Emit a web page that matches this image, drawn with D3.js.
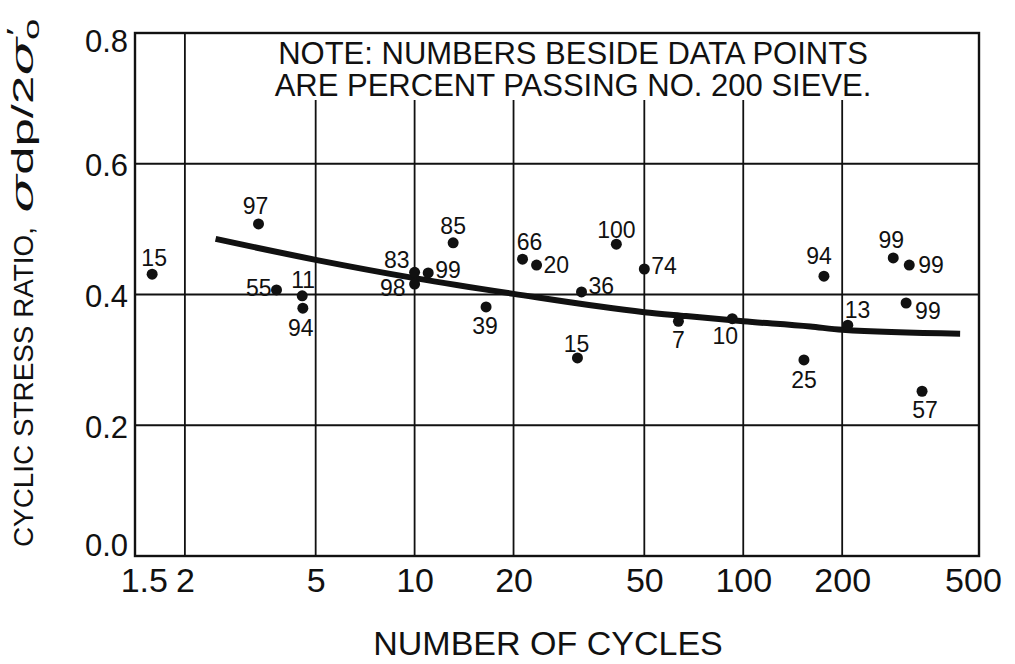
<!DOCTYPE html>
<html lang="en">
<head>
<meta charset="utf-8">
<title>Cyclic stress ratio vs number of cycles</title>
<script src="https://cdn.jsdelivr.net/npm/d3@7"></script>
<style>
    body { margin: 0; background: #fff; }
    svg { display: block; }
    text { font-family: "Liberation Sans", Arial, Helvetica, sans-serif; fill: #111; }
</style>
</head>
<body>
<script>

// test points: number of cycles, stress ratio, percent passing No. 200 sieve
var cycles = [1.59, 3.35, 3.8, 4.55, 4.57, 10, 10, 11, 13.1, 16.5, 21.3, 23.5, 32.2, 31.3, 41.1,
              50, 63.5, 92.6, 176, 153, 208, 286, 320, 313, 350];
var ratio = [0.431, 0.508, 0.407, 0.398, 0.379, 0.434, 0.416, 0.433, 0.479, 0.381, 0.454, 0.445, 0.404, 0.303, 0.477,
             0.439, 0.359, 0.363, 0.428, 0.300, 0.353, 0.456, 0.445, 0.387, 0.252];
var passing = ["15", "97", "55", "11", "94", "83", "98", "99", "85", "39", "66", "20", "36", "15", "100",
               "74", "7", "10", "94", "25", "13", "99", "99", "99", "57"];

// hand drawn trend curve
var trendCycles = [2.48, 5, 10, 20, 50, 67, 100, 160, 200, 457];
var trendRatio = [0.485, 0.453, 0.425, 0.401, 0.373, 0.367, 0.359, 0.351, 0.346, 0.340];

var xTicks = [1.5, 2, 5, 10, 20, 50, 100, 200, 500];
var xGrid = [2, 5, 10, 20, 50, 100, 200];
var yTicks = [0, 0.2, 0.4, 0.6, 0.8];
var yGrid = [0.2, 0.4, 0.6];
var noteLines = ["NOTE: NUMBERS BESIDE DATA POINTS", "ARE PERCENT PASSING NO. 200 SIEVE."];

var w = 1015, h = 664;
var pLeft = 135, pRight = 979, pTop = 33, pBottom = 556;
var noteBottom = 100;   // vertical grid stops under the note

// where each number sits next to its dot: dx, dy, anchor
var labelOffset = [
    [2, -8, "middle"], [-3, -10, "middle"], [-5, 6, "end"], [1, -8, "middle"], [-2, 28, "middle"],
    [-5, -4, "end"], [-9, 12, "end"], [7, 5, "start"], [0, -9, "middle"], [-1, 27, "middle"],
    [7, -9, "middle"], [7, 8, "start"], [7, 2, "start"], [-1, -6, "middle"], [0, -6, "middle"],
    [7, 5, "start"], [0, 27, "middle"], [-7, 25, "middle"], [-5, -12, "middle"], [0, 28, "middle"],
    [-3, -7, "start"], [-2, -10, "middle"], [9, 8, "start"], [9, 16, "start"], [3, 27, "middle"]
];

var x = d3.scaleLog().domain([1.41, 521.6]).range([pLeft, pRight]);
var y = d3.scaleLinear().domain([0, 0.8]).range([pBottom, pTop]);

var svg = d3.select("body")
    .append("svg")
    .attr("width", w)
    .attr("height", h);

// grid
svg.selectAll("line.hgrid")
    .data(yGrid)
    .enter()
    .append("line")
    .attr("class", "hgrid")
    .attr("x1", pLeft).attr("x2", pRight)
    .attr("y1", function(d){ return y(d); })
    .attr("y2", function(d){ return y(d); })
    .attr("stroke", "#111")
    .attr("stroke-width", 1.8);

svg.selectAll("line.vgrid")
    .data(xGrid)
    .enter()
    .append("line")
    .attr("class", "vgrid")
    .attr("x1", function(d){ return x(d); })
    .attr("x2", function(d){ return x(d); })
    .attr("y1", function(d){ return d == 2 ? pTop : noteBottom; })
    .attr("y2", pBottom)
    .attr("stroke", "#111")
    .attr("stroke-width", 1.8);

// frame
svg.append("rect")
    .attr("x", pLeft).attr("y", pTop)
    .attr("width", pRight - pLeft).attr("height", pBottom - pTop)
    .attr("fill", "none")
    .attr("stroke", "#111")
    .attr("stroke-width", 2.4);

// axes (labels only)
var xAxis = d3.axisBottom(x)
    .tickValues(xTicks)
    .tickFormat(function(d){ return String(d); })
    .tickSize(0)
    .tickPadding(12);

var gx = svg.append("g")
    .attr("transform", "translate(0," + pBottom + ")")
    .call(xAxis);
gx.select(".domain").remove();
gx.selectAll("text")
    .style("font-family", "'Liberation Sans', Arial, sans-serif")
    .style("font-size", "34px")
    .attr("fill", "#111");

var yAxis = d3.axisLeft(y)
    .tickValues(yTicks)
    .tickFormat(d3.format(".1f"))
    .tickSize(0)
    .tickPadding(7);

var gy = svg.append("g")
    .attr("transform", "translate(" + pLeft + ",0)")
    .call(yAxis);
gy.select(".domain").remove();
gy.selectAll("text")
    .style("font-family", "'Liberation Sans', Arial, sans-serif")
    .style("font-size", "31px")
    .attr("fill", "#111")
    .attr("y", function(d){
        if (d == 0.8) return 9;
        if (d == 0) return -10;
        return 2;
    });

// axis titles
svg.append("text")
    .attr("x", 548)
    .attr("y", 655)
    .attr("text-anchor", "middle")
    .style("font-size", "34px")
    .text("NUMBER OF CYCLES");

// y title: plain words, then the wide stress symbol part (scan is stretched along the text)
var yt = svg.append("g")
    .attr("transform", "translate(33,547) rotate(-90)");

yt.append("text")
    .attr("textLength", 320)
    .attr("lengthAdjust", "spacingAndGlyphs")
    .style("font-size", "28px")
    .text("CYCLIC STRESS RATIO,");

var symStart = 334;
var ytSym = yt.append("text")
    .style("font-size", "29px");
ytSym.append("tspan")
    .style("font-family", "'DejaVu Serif', serif")
    .style("font-style", "italic")
    .style("font-size", "32px")
    .text("σ");
ytSym.append("tspan").text("dp/2");
ytSym.append("tspan")
    .style("font-family", "'DejaVu Serif', serif")
    .style("font-style", "italic")
    .style("font-size", "32px")
    .text("σ");
ytSym.append("tspan")
    .attr("dx", 1)
    .attr("dy", -9)
    .style("font-size", "24px")
    .text("′");
ytSym.append("tspan")
    .attr("dx", -7)
    .attr("dy", 15)
    .style("font-size", "22px")
    .text("o");

var symLen = ytSym.node().getComputedTextLength();
var stretch = (539 - symStart) / symLen;
ytSym.attr("transform", "translate(" + symStart + ",0) scale(" + stretch + ",1)");

// note
svg.selectAll("text.note")
    .data(noteLines)
    .enter()
    .append("text")
    .attr("class", "note")
    .attr("x", 573)
    .attr("y", function(d, i){ return 64 + i * 32; })
    .attr("text-anchor", "middle")
    .style("font-size", "31px")
    .text(function(d){ return d; });

// trend curve
var line = d3.line()
    .x(function(d, i){ return x(trendCycles[i]); })
    .y(function(d, i){ return y(trendRatio[i]); })
    .curve(d3.curveMonotoneX);

svg.append("path")
    .datum(trendCycles)
    .attr("d", line)
    .attr("fill", "none")
    .attr("stroke", "#111")
    .attr("stroke-width", 6)
    .attr("stroke-linecap", "butt");

// points
svg.selectAll("circle")
    .data(cycles)
    .enter()
    .append("circle")
    .attr("cx", function(d){ return x(d); })
    .attr("cy", function(d, i){ return y(ratio[i]); })
    .attr("r", 5.5)
    .attr("fill", "#111");

svg.selectAll("text.pt")
    .data(passing)
    .enter()
    .append("text")
    .attr("class", "pt")
    .attr("x", function(d, i){ return x(cycles[i]) + labelOffset[i][0]; })
    .attr("y", function(d, i){ return y(ratio[i]) + labelOffset[i][1]; })
    .attr("text-anchor", function(d, i){ return labelOffset[i][2]; })
    .style("font-size", "23px")
    .text(function(d){ return d; });

</script>
</body>
</html>
